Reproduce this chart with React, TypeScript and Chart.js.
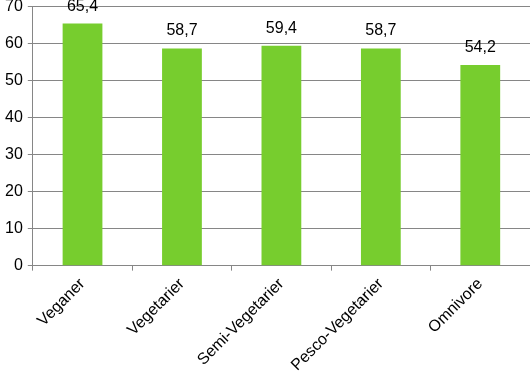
import React, { useEffect, useRef } from "react";
import { Chart, registerables } from "chart.js";

Chart.register(...registerables);

const categories = ["Veganer", "Vegetarier", "Semi-Vegetarier", "Pesco-Vegetarier", "Omnivore"];
const values = [65.4, 58.7, 59.4, 58.7, 54.2];
const yTicks = [0, 10, 20, 30, 40, 50, 60, 70];

const FONT = "'Liberation Sans', Arial, sans-serif";

const labelPlugin = {
  id: "barLabels",
  afterDatasetsDraw(chart: any) {
    const ctx = chart.ctx;
    const meta = chart.getDatasetMeta(0);
    ctx.save();
    ctx.font = `16px ${FONT}`;
    ctx.fillStyle = "#000";
    ctx.textAlign = "center";
    ctx.textBaseline = "alphabetic";
    meta.data.forEach((el: any, i: number) => {
      const txt = String(values[i]).replace(".", ",");
      ctx.fillText(txt, el.x, el.y - 13);
    });
    ctx.restore();
  },
};

export default function App() {
  const ref = useRef<HTMLCanvasElement | null>(null);
  useEffect(() => {
    document.body.style.margin = "0";
    const chart = new Chart(ref.current!, {
      type: "bar",
      data: {
        labels: categories,
        datasets: [
          {
            data: values,
            backgroundColor: "#77CD2E",
            barPercentage: 0.4,
            categoryPercentage: 1,
          },
        ],
      },
      options: {
        animation: false,
        responsive: false,
        maintainAspectRatio: false,
        layout: { padding: { top: 0, right: 0, bottom: 0, left: 0 } },
        plugins: { legend: { display: false }, tooltip: { enabled: false } },
        scales: {
          x: {
            grid: {
              offset: true,
              drawOnChartArea: false,
              drawTicks: true,
              tickLength: 5,
              color: "#868686",
            },
            border: { color: "#868686" },
            ticks: {
              minRotation: 45,
              maxRotation: 45,
              color: "#000",
              font: { family: FONT, size: 16 },
              padding: 4,
            },
          },
          y: {
            min: 0,
            max: 70,
            afterBuildTicks: (axis: any) => {
              axis.ticks = yTicks.map((v) => ({ value: v }));
            },
            grid: { color: "#868686", tickLength: 5 },
            border: { color: "#868686" },
            ticks: {
              color: "#000",
              font: { family: FONT, size: 16 },
              padding: 5,
            },
          },
        },
      },
      plugins: [labelPlugin],
    });
    return () => chart.destroy();
  }, []);
  return (
    <div style={{ width: 530, height: 377, position: "relative", overflow: "hidden" }}>
      <canvas
        ref={ref}
        width={530}
        height={387}
        style={{ display: "block", position: "absolute", left: 0, top: -8 }}
      />
    </div>
  );
}
